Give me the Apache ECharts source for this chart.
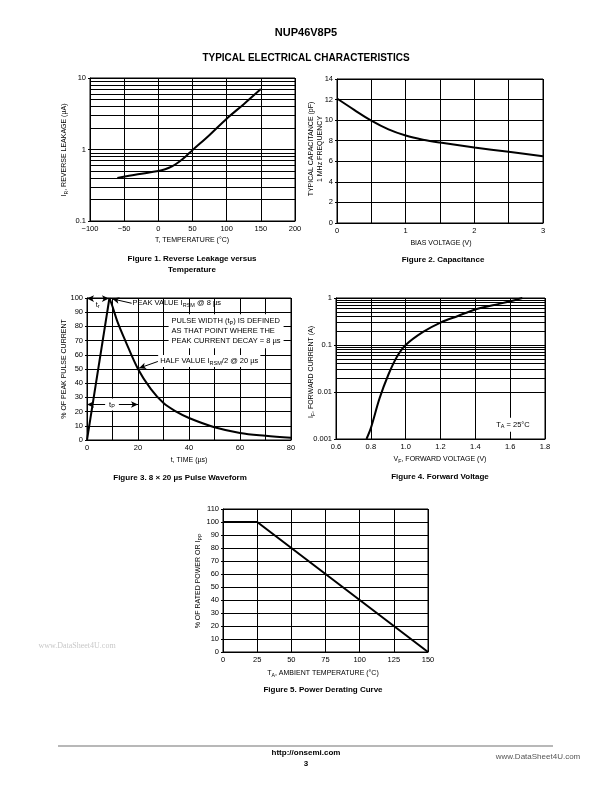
<!DOCTYPE html>
<html><head><meta charset="utf-8">
<script src="https://cdn.jsdelivr.net/npm/echarts@6/dist/echarts.min.js"></script>
<style>html,body{margin:0;padding:0;background:#fff}#c{width:612px;height:792px}</style>
</head><body><div id="c"></div>
<script>
// ---------- Figure 1: Reverse leakage vs temperature ----------
const f1Temp = [-60, -30, 0, 10, 20, 30, 40, 50, 75, 100, 125, 150];
const f1Leak = [0.40, 0.45, 0.50, 0.53, 0.58, 0.67, 0.80, 0.98, 1.6, 2.7, 4.3, 7.0];
const f1XRange = [-100, 200, 50];
const f1YRange = [0.1, 10];
const f1Minor = [0.2, 0.3, 0.4, 0.5, 0.6, 0.7, 0.8, 0.9, 2, 3, 4, 5, 6, 7, 8, 9];

// ---------- Figure 2: Capacitance ----------
const f2Bias = [0, 0.25, 0.5, 0.75, 1, 1.25, 1.5, 2, 2.5, 3];
const f2Cap = [12.1, 11.0, 9.95, 9.1, 8.5, 8.1, 7.82, 7.35, 6.92, 6.5];
const f2XRange = [0, 3, 0.5];
const f2YRange = [0, 14, 2];

// ---------- Figure 3: 8 x 20 us pulse waveform ----------
const f3RiseT = [0, 8.8];
const f3RiseV = [0, 100];
const f3DecayT = [8.8, 10, 12, 15, 20, 25, 30, 35, 40, 50, 60, 70, 80];
const f3DecayV = [100, 94, 83, 70, 50, 36, 26, 20, 15.5, 9, 5, 3, 1.5];
const f3XRange = [0, 80, 10];
const f3YRange = [0, 100, 10];

// ---------- Figure 4: Forward voltage ----------
const f4Vf = [0.775, 0.8, 0.85, 0.9, 0.95, 1.0, 1.1, 1.2, 1.3, 1.4, 1.5, 1.6, 1.67];
const f4If = [0.001, 0.0017, 0.0073, 0.023, 0.056, 0.1, 0.19, 0.30, 0.415, 0.57, 0.70, 0.85, 1.0];
const f4XRange = [0.6, 1.8, 0.2];
const f4YRange = [0.001, 1];
const f4Minor = [0.002,0.003,0.004,0.005,0.006,0.007,0.008,0.009,0.02,0.03,0.04,0.05,0.06,0.07,0.08,0.09,0.2,0.3,0.4,0.5,0.6,0.7,0.8,0.9];

// ---------- Figure 5: Power derating ----------
const f5Temp = [0, 25, 150];
const f5Power = [100, 100, 0];
const f5XRange = [0, 150, 25];
const f5YRange = [0, 110, 10];

const F = '"Liberation Sans", Arial, Helvetica, sans-serif';
const zip = (a, b) => a.map((v, i) => [v, b[i]]);
const SUB = {
  a: {fontSize: 7.5, fontFamily: F, color: '#000', lineHeight: 10},
  s: {fontSize: 5.5, fontFamily: F, color: '#000', lineHeight: 5, verticalAlign: 'bottom'}
};
const SUBN = {
  a: {fontSize: 7, fontFamily: F, fill: '#000', color: '#000', lineHeight: 10},
  s: {fontSize: 5.2, fontFamily: F, fill: '#000', color: '#000', lineHeight: 5, verticalAlign: 'bottom'}
};

function xAx(gi, r, fmt, extra) {
  return Object.assign({
    type: 'value', gridIndex: gi, min: r[0], max: r[1], interval: r[2],
    axisLine: {show: true, onZero: false, lineStyle: {color: '#000', width: 1}},
    axisTick: {show: false},
    axisLabel: {color: '#000', fontSize: 7.5, fontFamily: F, margin: 4, formatter: fmt, showMinLabel: true, showMaxLabel: true},
    splitLine: {show: true, lineStyle: {color: '#000', width: 1}}
  }, extra || {});
}
function yAx(gi, r, fmt, extra) {
  return Object.assign({
    type: 'value', gridIndex: gi, min: r[0], max: r[1], interval: r[2],
    axisLine: {show: true, onZero: false, lineStyle: {color: '#000', width: 1}},
    axisTick: {show: true, length: 2, lineStyle: {color: '#000'}},
    axisLabel: {color: '#000', fontSize: 7.5, fontFamily: F, margin: 4, formatter: fmt, showMinLabel: true, showMaxLabel: true},
    splitLine: {show: true, lineStyle: {color: '#000', width: 1}}
  }, extra || {});
}
function logAx(gi, r) {
  return {
    type: 'log', logBase: 10, gridIndex: gi, min: r[0], max: r[1],
    axisLine: {show: true, onZero: false, lineStyle: {color: '#000', width: 1}},
    axisTick: {show: true, length: 2, lineStyle: {color: '#000'}},
    axisLabel: {color: '#000', fontSize: 7.5, fontFamily: F, margin: 4, formatter: v => String(+(+v).toPrecision(3))},
    splitLine: {show: true, lineStyle: {color: '#000', width: 1}},
    minorSplitLine: {show: false}
  };
}
function minorLines(vals) {
  return {
    silent: true, symbol: ['none', 'none'], animation: false,
    label: {show: false},
    lineStyle: {color: '#000', width: 1, type: 'solid', opacity: 1},
    emphasis: {disabled: true},
    data: vals.map(v => ({yAxis: v}))
  };
}
const curveStyle = {color: '#000', width: 2};
function note(pos, text, opts) {
  return {
    value: pos,
    label: Object.assign({
      show: true, position: 'inside', align: 'left', verticalAlign: 'middle',
      formatter: text, rich: SUB, color: '#000', opacity: 1, textBorderWidth: 0
    }, opts || {})
  };
}

const grids = [
  {left: 90, top: 78, width: 205, height: 143},
  {left: 337, top: 79, width: 206, height: 144},
  {left: 87, top: 298, width: 204, height: 142},
  {left: 336, top: 298, width: 209, height: 141},
  {left: 223, top: 509, width: 205, height: 143}
].map(g => Object.assign(g, {show: true, borderColor: '#000', borderWidth: 1, backgroundColor: 'transparent', containLabel: false}));

const option = {
  animation: false,
  textStyle: {fontFamily: F},
  grid: grids,
  xAxis: [
    xAx(0, f1XRange, v => String(v).replace('-', '\u2212')),
    xAx(1, f2XRange, v => (Math.abs(v - Math.round(v)) < 1e-6 ? String(Math.round(v)) : '')),
    xAx(2, f3XRange, v => (Math.round(v) % 20 === 0 ? String(Math.round(v)) : '')),
    xAx(3, f4XRange, v => (+v).toFixed(1)),
    xAx(4, f5XRange, v => String(v))
  ],
  yAxis: [
    logAx(0, f1YRange),
    yAx(1, f2YRange, v => String(v)),
    yAx(2, f3YRange, v => String(v)),
    logAx(3, f4YRange),
    yAx(4, f5YRange, v => String(v))
  ],
  series: [
    {type: 'line', xAxisIndex: 0, yAxisIndex: 0, data: zip(f1Temp, f1Leak), smooth: 0.35, symbol: 'none',
      lineStyle: curveStyle, markLine: minorLines(f1Minor), z: 3},
    {type: 'line', xAxisIndex: 1, yAxisIndex: 1, data: zip(f2Bias, f2Cap), smooth: 0.35, symbol: 'none',
      lineStyle: curveStyle, z: 3},
    {type: 'line', xAxisIndex: 2, yAxisIndex: 2, data: zip(f3RiseT, f3RiseV), symbol: 'none',
      lineStyle: curveStyle, z: 3},
    {type: 'line', xAxisIndex: 2, yAxisIndex: 2, data: zip(f3DecayT, f3DecayV), smooth: 0.35, symbol: 'none',
      lineStyle: curveStyle, z: 3,
      markLine: {
        silent: true, animation: false, label: {show: false}, emphasis: {disabled: true},
        lineStyle: {color: '#000', width: 1, type: 'solid'}, symbolSize: [5, 7],
        data: [
          [{coord: [0, 99.6], symbol: 'arrow'}, {coord: [8.6, 99.6], symbol: 'arrow'}],
          [{coord: [0, 25], symbol: 'arrow'}, {coord: [20, 25], symbol: 'arrow'}],
          [{coord: [17.5, 96.3], symbol: 'none'}, {coord: [9.9, 99.4], symbol: 'arrow'}],
          [{coord: [27.8, 55.3], symbol: 'none'}, {coord: [20.4, 50.6], symbol: 'arrow'}]
        ]
      }},
    {type: 'scatter', xAxisIndex: 2, yAxisIndex: 2, symbolSize: 0, silent: true, z: 6,
      data: [
        note([3.4, 95.2], '{a|t}{s|r}'),
        note([17.8, 96.2], '{a|PEAK VALUE I}{s|RSM}{a| @ 8 µs}'),
        note([32.0, 76.6], '{a|PULSE WIDTH (t}{s|P}{a|) IS DEFINED}\n{a|AS THAT POINT WHERE THE}\n{a|PEAK CURRENT DECAY = 8 µs}',
          {backgroundColor: '#fff', padding: [2, 3, 2, 3], lineHeight: 10.5}),
        note([27.9, 55.6], '{a|HALF VALUE I}{s|RSM}{a|/2 @ 20 µs}', {backgroundColor: '#fff', padding: [1, 2, 1, 2]}),
        note([9.8, 25], '{a|t}{s|P}', {align: 'center', backgroundColor: '#fff', padding: [1, 4, 1, 4]})
      ]},
    {type: 'line', xAxisIndex: 3, yAxisIndex: 3, data: zip(f4Vf, f4If), smooth: 0.35, symbol: 'none',
      lineStyle: curveStyle, markLine: minorLines(f4Minor), z: 3},
    {type: 'scatter', xAxisIndex: 3, yAxisIndex: 3, symbolSize: 0, silent: true, z: 6,
      data: [note([1.616, 0.002], '{a|T}{s|A}{a| = 25°C}', {align: 'center', backgroundColor: '#fff', padding: [2, 6, 2, 6]})]},
    {type: 'line', xAxisIndex: 4, yAxisIndex: 4, data: zip(f5Temp, f5Power), symbol: 'none',
      lineStyle: curveStyle, z: 3}
  ],
  graphic: []
};

function txt(x, y, text, font, extra) {
  return Object.assign({
    type: 'text', x: x, y: y, silent: true,
    style: {text: text, font: font, fill: '#000', textAlign: 'center', textVerticalAlign: 'middle'}
  }, extra || {});
}
function rtxt(x, y, text, rot) {
  return {
    type: 'text', x: x, y: y, rotation: rot ? Math.PI / 2 : 0, silent: true,
    style: {text: text, rich: SUBN, textAlign: 'center', textVerticalAlign: 'middle', fill: '#000', font: '7px ' + F}
  };
}
const BOLD = s => 'bold ' + s + 'px ' + F;
const REG = s => s + 'px ' + F;

option.graphic = [
  txt(306, 33, 'NUP46V8P5', BOLD(11)),
  txt(306, 58, 'TYPICAL ELECTRICAL CHARACTERISTICS', BOLD(10)),
  // Fig 1
  rtxt(64, 150, '{a|I}{s|R}{a|, REVERSE LEAKAGE (µA)}', true),
  txt(192, 240, 'T, TEMPERATURE (°C)', REG(7)),
  txt(192, 259, 'Figure 1. Reverse Leakage versus', BOLD(8)),
  txt(192, 269.5, 'Temperature', BOLD(8)),
  // Fig 2
  txt(311.5, 149, 'TYPICAL CAPACITANCE (pF)', REG(7), {rotation: Math.PI / 2}),
  txt(320.5, 149, '1 MHz FREQUENCY', REG(7), {rotation: Math.PI / 2}),
  txt(441, 243, 'BIAS VOLTAGE (V)', REG(7)),
  txt(443, 260, 'Figure 2. Capacitance', BOLD(8)),
  // Fig 3
  txt(64, 369, '% OF PEAK PULSE CURRENT', REG(7), {rotation: Math.PI / 2}),
  txt(189, 460, 't, TIME (µs)', REG(7)),
  txt(180, 478, 'Figure 3. 8 \u00d7 20 µs Pulse Waveform', BOLD(8)),
  // Fig 4
  rtxt(311, 372, '{a|I}{s|F}{a|, FORWARD CURRENT (A)}', true),
  rtxt(440, 459.5, '{a|V}{s|F}{a|, FORWARD VOLTAGE (V)}', false),
  txt(440, 477, 'Figure 4. Forward Voltage', BOLD(8)),
  // Fig 5
  rtxt(198, 581, '{a|% OF RATED POWER OR I}{s|PP}', true),
  rtxt(323, 673, '{a|T}{s|A}{a|, AMBIENT TEMPERATURE (°C)}', false),
  txt(323, 690, 'Figure 5. Power Derating Curve', BOLD(8)),
  // watermark + footer
  txt(77, 646, 'www.DataSheet4U.com', '8px "Liberation Serif", serif', {style: {text: 'www.DataSheet4U.com', font: '8px "Liberation Serif", serif', fill: '#c8c8c8', textAlign: 'center', textVerticalAlign: 'middle'}}),
  {type: 'line', silent: true, shape: {x1: 58, y1: 746, x2: 553, y2: 746}, style: {stroke: '#b8b8b8', lineWidth: 2}},
  txt(306, 753, 'http://onsemi.com', BOLD(8)),
  txt(306, 764, '3', BOLD(8)),
  txt(538, 757, 'www.DataSheet4U.com', REG(8), {style: {text: 'www.DataSheet4U.com', font: REG(8), fill: '#555', textAlign: 'center', textVerticalAlign: 'middle'}})
];

const chart = echarts.init(document.getElementById('c'), null, {renderer: 'canvas'});
chart.setOption(option);
</script>
</body></html>
